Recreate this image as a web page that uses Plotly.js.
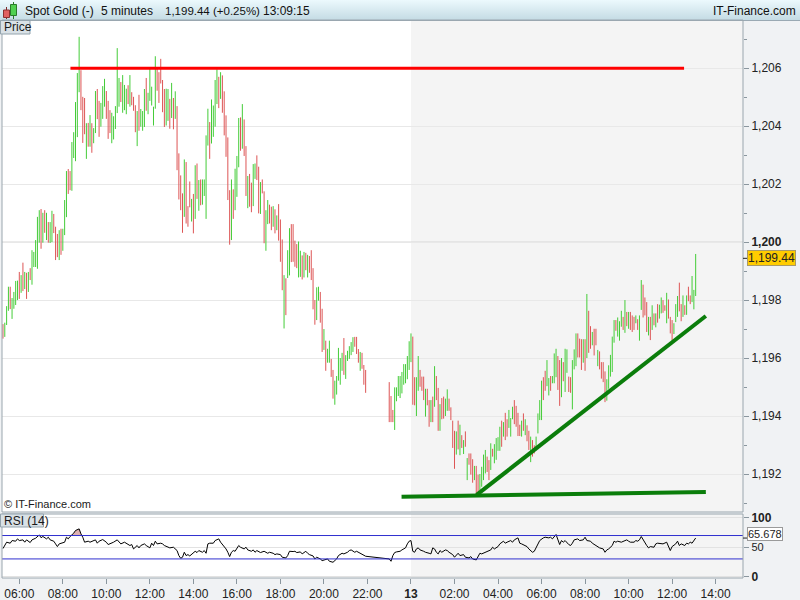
<!DOCTYPE html>
<html><head><meta charset="utf-8">
<script src="https://cdn.plot.ly/plotly-3.0.1.min.js"></script>
<style>html,body{margin:0;padding:0;background:#f0f2f4;overflow:hidden}#chart{width:800px;height:600px}</style>
</head><body><div id="chart"></div>
<script>
// ---------------- DATA ----------------
const sessionStarts = ['2018-09-12 05:15', '2018-09-12 23:00']; // 5-minute bars
const highs1 = [
1197.17,1197.22,1197.79,1198.46,1198.46,1198.07,1198.28,1198.66,1198.67,1198.97,
1198.86,1199.29,1198.97,1198.94,1198.97,1199.10,1199.72,1199.66,1200.07,1200.87,
1201.10,1201.14,1201.01,1201.10,1201.01,1200.69,1200.69,1201.08,1200.97,1200.53,
1200.28,1200.41,1200.46,1200.46,1201.45,1202.45,1202.52,1202.45,1203.45,1203.79,
1204.83,1205.83,1207.08,1205.93,1205.01,1204.97,1204.10,1204.11,1204.38,1204.10,
1203.93,1205.21,1205.28,1204.87,1204.80,1205.38,1205.63,1205.21,1204.87,1204.55,
1204.46,1204.34,1204.69,1206.69,1205.66,1205.52,1205.76,1205.42,1205.29,1205.41,
1205.76,1205.17,1205.01,1204.72,1204.52,1205.08,1204.59,1204.52,1205.28,1205.66,
1205.15,1205.98,1205.36,1204.67,1206.41,1205.98,1205.86,1206.32,1205.59,1205.28,
1205.29,1205.28,1204.94,1205.49,1204.97,1205.20,1204.69,1203.06,1202.30,1201.68,
1202.85,1202.76,1201.24,1202.09,1201.49,1201.66,1202.65,1202.71,1202.14,1202.16,
1202.16,1202.16,1203.68,1204.60,1204.14,1204.92,1204.71,1205.59,1205.96,1205.70,
1205.86,1205.75,1205.20,1204.37,1203.61,1201.79,1202.16,1201.82,1202.53,1202.97,
1204.28,1204.30,1204.76,1204.23,1203.31,1202.28,1202.35,1202.05,1202.69,1202.71,
1202.99,1202.60,1202.07,1202.16,1201.75,1201.10,1201.45,1201.29,1201.22,1201.24,
1201.13,1200.92,1201.31,1200.78,1200.09,1198.86,1198.75,1199.72,1200.48,1200.62,
1200.62,1200.05,1199.93,1200.02,1199.70,1199.54,1199.66,1199.63,1199.56,1199.52,
1199.72,1199.10,1198.00,1198.44,1198.46,1198.28,1197.70,1197.00,1196.60,1196.32,
1196.60,1195.97,1195.59,1195.22,1195.38,1196.35,1196.00,1196.18,1196.69,1196.10,
1196.25,1196.41,1196.55,1196.72,1196.73,1196.73,1196.31,1196.21,1196.18,1195.76,
1195.59];
const lows1 = [
1196.67,1196.73,1197.14,1197.63,1197.69,1197.35,1197.70,1197.83,1198.00,1198.04,
1198.25,1198.31,1198.38,1198.04,1198.28,1198.69,1198.53,1199.14,1199.14,1199.08,
1199.98,1199.77,1199.98,1200.32,1200.07,1199.98,1199.97,1200.00,1200.31,1199.38,
1199.48,1199.38,1199.56,1199.70,1200.24,1200.86,1201.66,1201.79,1201.77,1202.90,
1202.79,1203.62,1205.17,1204.55,1203.42,1203.72,1202.87,1203.29,1203.29,1203.08,
1203.41,1203.76,1204.24,1203.63,1203.98,1204.25,1204.67,1204.25,1203.56,1203.76,
1203.41,1203.54,1203.90,1204.45,1204.67,1204.83,1204.46,1204.55,1204.41,1204.76,
1204.67,1204.72,1204.53,1203.79,1203.31,1203.84,1203.98,1203.84,1203.97,1204.53,
1204.41,1204.87,1204.71,1204.02,1204.60,1205.22,1204.80,1205.47,1204.48,1203.97,
1204.02,1204.18,1203.91,1204.28,1203.89,1204.25,1202.48,1201.47,1201.10,1200.32,
1200.87,1200.64,1200.53,1201.20,1200.71,1200.30,1200.80,1201.49,1201.08,1201.27,
1201.29,1201.59,1200.80,1203.33,1202.87,1203.40,1203.63,1203.98,1204.76,1204.62,
1204.94,1204.46,1203.68,1202.94,1201.45,1199.91,1200.07,1200.80,1201.10,1201.56,
1202.58,1203.15,1203.22,1202.97,1201.59,1201.17,1201.22,1201.03,1201.24,1202.18,
1202.14,1200.99,1200.97,1201.68,1199.96,1199.70,1200.62,1200.64,1200.41,1200.53,
1200.30,1200.41,1200.05,1199.32,1198.34,1197.02,1197.48,1198.76,1198.85,1199.31,
1199.32,1199.15,1199.10,1198.78,1198.80,1198.71,1198.78,1199.03,1198.78,1198.94,
1198.69,1197.68,1197.15,1197.31,1197.98,1197.22,1196.21,1196.28,1195.56,1195.84,
1195.84,1195.35,1194.60,1194.39,1194.74,1195.22,1195.08,1195.56,1195.42,1195.28,
1195.90,1195.97,1196.10,1196.21,1196.39,1196.14,1195.84,1195.56,1195.63,1195.08,
1194.80];
// u = up bar (green), d = down bar (red)
const dirs1 = 'duuuduuuud' + 'udududuuuu' + 'udududuudd' + 'duduuudduu' + 'uuudddudud' +
  'uudduuuddd' + 'uuuuuduuud' + 'uddduduuud' + 'uuuuuddddd' + 'uudududddd' +
  'udddududud' + 'uuuuduuuud' + 'uddddduduu' + 'ududdudduu' + 'ddudduuddu' +
  'duddduduud' + 'ddduududud' + 'ddduuddudu' + 'udduuuuudu' + 'uuuudddudd' + 'd';

const highs2 = [
1195.17,1194.69,1194.21,1194.99,1194.99,1195.38,1195.38,1195.52,1195.79,1195.79,
1196.07,1196.58,1196.85,1196.74,1195.34,1195.34,1196.07,1195.59,1195.36,1195.36,
1194.94,1194.94,1194.55,1194.55,1194.67,1195.72,1195.38,1194.97,1194.41,1194.62,
1194.67,1194.60,1194.92,1194.60,1194.30,1193.84,1193.49,1193.47,1193.84,1193.70,
1193.34,1193.17,1193.47,1192.55,1192.71,1192.71,1192.51,1192.28,1192.28,1191.98,
1192.00,1192.25,1192.67,1192.83,1192.60,1192.48,1193.06,1192.87,1193.03,1193.24,
1193.27,1193.63,1193.84,1193.79,1194.11,1193.89,1194.21,1193.93,1194.32,1194.55,
1194.35,1194.11,1193.70,1193.84,1194.09,1193.89,1193.68,1193.49,1193.29,1193.17,
1192.99,1193.29,1194.09,1194.55,1195.22,1195.34,1195.56,1195.93,1195.31,1195.38,
1195.38,1196.16,1196.32,1196.07,1195.93,1196.00,1195.86,1196.32,1196.30,1195.36,
1195.34,1195.93,1196.30,1196.85,1196.85,1196.67,1196.65,1196.65,1196.65,1198.21,
1197.63,1197.10,1196.90,1197.01,1197.01,1196.28,1196.23,1195.86,1195.86,1195.54,
1195.27,1195.75,1196.11,1196.74,1197.31,1197.31,1197.40,1197.27,1197.63,1197.42,
1198.00,1197.59,1197.59,1197.59,1197.47,1197.42,1197.47,1197.34,1197.47,1198.69,
1198.53,1198.09,1197.93,1197.42,1197.42,1197.82,1197.54,1197.54,1197.86,1197.84,
1198.09,1198.00,1197.82,1198.25,1198.02,1197.42,1197.31,1197.20,1197.86,1198.14,
1198.60,1197.86,1198.16,1197.82,1198.16,1198.46,1198.16,1198.83,1198.35,1199.59];
const lows2 = [
1193.79,1193.79,1193.79,1193.52,1194.51,1194.69,1194.62,1194.78,1195.08,1195.13,
1195.27,1195.59,1195.86,1194.39,1194.37,1194.00,1194.87,1195.01,1194.87,1194.55,
1193.98,1194.37,1193.63,1193.79,1193.79,1194.32,1194.55,1193.49,1193.49,1193.89,
1193.91,1194.00,1194.18,1194.18,1193.86,1192.90,1192.18,1192.67,1192.85,1192.65,
1192.90,1192.69,1192.94,1191.79,1192.32,1191.98,1191.70,1191.79,1191.27,1191.27,
1191.45,1191.56,1191.79,1192.02,1192.07,1191.79,1192.14,1192.60,1192.37,1192.49,
1192.80,1192.80,1192.94,1193.29,1193.17,1193.29,1193.59,1193.29,1193.89,1193.72,
1193.63,1193.31,1193.31,1193.29,1193.49,1193.34,1193.13,1192.83,1192.41,1192.60,
1192.71,1192.87,1193.40,1193.86,1193.86,1194.55,1194.87,1195.03,1194.71,1194.87,
1195.13,1195.13,1195.34,1194.90,1194.35,1194.65,1195.20,1194.83,1195.49,1194.83,
1194.80,1194.23,1195.61,1195.72,1196.02,1196.02,1195.59,1195.84,1195.56,1196.00,
1196.18,1196.32,1196.44,1196.09,1196.44,1195.72,1195.61,1195.29,1195.17,1194.48,
1194.53,1194.94,1195.36,1195.52,1196.53,1196.94,1196.74,1196.60,1197.08,1196.97,
1196.87,1197.10,1197.01,1196.97,1196.90,1196.97,1197.20,1196.97,1196.60,1197.66,
1197.40,1197.47,1196.90,1196.78,1196.62,1196.97,1197.13,1197.06,1197.22,1197.36,
1197.54,1197.56,1197.63,1197.20,1197.36,1196.85,1196.62,1196.83,1197.24,1197.42,
1197.61,1197.27,1197.42,1197.49,1197.49,1197.96,1197.86,1197.93,1197.68,1198.14];
const dirs2 = 'ddduuuuuuu' + 'uuudduuddd' + 'uddududdud' + 'duuddddudu' + 'dududddudd' +
  'uuuudduduu' + 'uududduuud' + 'dddududdud' + 'duuuudduud' + 'uuudduduud' +
  'duuudddudu' + 'dduddudddd' + 'uuuuuduuud' + 'ududdduduu' + 'dddudududu' +
  'udduddduuu' + 'ddududduuu';

// RSI (14) line ("DD HH:MM" in Sept 2018)
const rsiTimes = [
'12 05:15','12 05:25','12 05:35','12 05:40','12 05:50','12 05:55','12 06:00','12 06:10','12 06:15','12 06:20',
'12 06:30','12 06:35','12 06:45','12 06:50','12 06:55','12 07:00','12 07:05','12 07:15','12 07:20','12 07:25',
'12 07:35','12 07:40','12 07:45','12 07:50','12 08:00','12 08:05','12 08:10','12 08:15','12 08:20','12 08:30',
'12 08:35','12 08:45','12 08:50','12 08:55','12 09:00','12 09:10','12 09:15','12 09:20','12 09:30','12 09:35',
'12 09:40','12 09:50','12 10:00','12 10:05','12 10:10','12 10:20','12 10:30','12 10:35','12 10:40','12 10:50',
'12 10:55','12 11:05','12 11:10','12 11:15','12 11:25','12 11:30','12 11:35','12 11:45','12 11:50','12 12:00',
'12 12:05','12 12:10','12 12:15','12 12:20','12 12:30','12 12:35','12 12:40','12 12:50','12 12:55','12 13:05',
'12 13:10','12 13:15','12 13:20','12 13:25','12 13:30','12 13:35','12 13:40','12 13:45','12 13:50','12 14:00',
'12 14:05','12 14:10','12 14:15','12 14:25','12 14:30','12 14:35','12 14:40','12 14:45','12 14:55','12 15:00',
'12 15:10','12 15:15','12 15:25','12 15:30','12 15:35','12 15:40','12 15:45','12 15:50','12 15:55','12 16:05',
'12 16:10','12 16:20','12 16:25','12 16:30','12 16:40','12 16:45','12 16:50','12 16:55','12 17:05','12 17:10',
'12 17:15','12 17:25','12 17:30','12 17:40','12 17:45','12 17:50','12 18:00','12 18:05','12 18:15','12 18:20',
'12 18:25','12 18:35','12 18:40','12 18:45','12 18:55','12 19:00','12 19:10','12 19:15','12 19:20','12 19:30',
'12 19:35','12 19:40','12 19:50','12 19:55','12 20:05','12 20:10','12 20:15','12 20:25','12 20:35','12 20:40',
'12 20:50','12 20:55','12 21:05','12 21:10','12 21:15','12 21:25','12 21:30','12 21:40','12 21:45','12 21:50',
'12 21:55',
'12 23:00','12 23:05','12 23:10','12 23:15','12 23:20','12 23:30','12 23:35','12 23:45','12 23:50','12 23:55',
'13 00:00','13 00:05','13 00:10','13 00:15','13 00:20','13 00:25','13 00:35','13 00:40','13 00:50','13 00:55',
'13 01:00','13 01:05','13 01:10','13 01:15','13 01:20','13 01:25','13 01:35','13 01:40','13 01:45','13 01:55',
'13 02:00','13 02:05','13 02:10','13 02:15','13 02:25','13 02:30','13 02:40','13 02:45','13 02:50','13 03:00',
'13 03:05','13 03:10','13 03:15','13 03:25','13 03:30','13 03:40','13 03:45','13 03:50','13 04:00','13 04:05',
'13 04:15','13 04:20','13 04:25','13 04:35','13 04:40','13 04:45','13 04:55','13 05:00','13 05:05','13 05:10',
'13 05:20','13 05:25','13 05:35','13 05:40','13 05:45','13 05:50','13 05:55','13 06:05','13 06:10','13 06:20',
'13 06:25','13 06:30','13 06:35','13 06:40','13 06:50','13 06:55','13 07:00','13 07:05','13 07:15','13 07:20',
'13 07:25','13 07:30','13 07:40','13 07:45','13 07:55','13 08:00','13 08:05','13 08:15','13 08:20','13 08:25',
'13 08:35','13 08:40','13 08:50','13 08:55','13 09:00','13 09:05','13 09:15','13 09:20','13 09:25','13 09:30',
'13 09:40','13 09:45','13 09:55','13 10:00','13 10:05','13 10:15','13 10:20','13 10:25','13 10:30','13 10:35',
'13 10:40','13 10:50','13 10:55','13 11:00','13 11:10','13 11:15','13 11:20','13 11:30','13 11:35','13 11:45',
'13 11:50','13 11:55','13 12:00','13 12:10','13 12:15','13 12:20','13 12:25','13 12:35','13 12:40','13 12:45',
'13 12:50','13 12:55','13 13:05'];
const rsiValues = [
47.7,58.6,56.9,61.4,60.3,64.3,61.4,62.6,58.6,62.6,
58.0,62.6,65.4,68.5,71.0,66.3,68.4,64.3,67.1,62.6,
60.3,55.7,51.1,55.7,56.9,58.6,67.1,64.3,68.3,74.0,
78.6,81.4,72.9,67.1,58.6,60.3,58.6,60.3,62.6,56.9,
60.3,63.1,58.6,54.6,55.7,58.6,62.6,58.6,55.7,58.6,
56.9,52.9,54.6,47.1,52.9,48.9,52.9,55.7,52.9,48.9,
56.9,52.9,60.3,55.7,56.9,55.7,52.9,50.0,48.9,50.0,
47.1,44.3,35.7,31.1,32.9,41.4,35.7,37.4,35.1,39.7,
43.1,40.9,44.3,41.4,44.3,39.7,55.7,56.9,56.9,61.4,
64.3,58.6,51.1,47.1,41.4,34.0,41.4,44.3,43.1,52.9,
50.0,47.1,50.0,45.4,43.1,45.4,41.4,44.3,40.9,41.4,
43.1,39.7,41.4,39.7,37.4,38.6,37.4,32.9,31.7,35.7,
43.1,42.6,43.1,40.9,42.0,38.6,43.1,39.7,37.4,35.1,
30.0,32.9,30.0,27.1,28.3,30.0,26.0,24.3,30.0,35.7,
39.7,38.6,41.4,44.3,45.4,41.4,43.1,39.7,37.4,35.7,
34.6,
30.0,26.0,35.7,40.9,42.0,43.1,45.4,48.9,55.7,60.3,
61.4,43.1,41.4,47.1,48.9,45.4,43.1,41.4,39.7,38.6,
48.9,47.1,41.4,38.6,44.3,41.4,45.4,44.3,41.4,37.4,
32.9,35.7,39.7,35.7,37.4,32.9,31.7,34.0,30.0,28.3,
32.9,39.7,38.6,41.4,41.4,45.4,50.0,47.1,51.1,55.7,
60.3,56.9,58.6,61.4,58.6,62.6,66.0,56.9,55.7,54.6,
51.1,47.1,41.4,43.1,48.9,55.7,61.4,66.0,67.1,66.0,
67.1,64.3,68.3,71.7,54.6,61.4,58.6,61.4,54.6,52.9,
56.9,62.6,64.3,61.4,62.6,67.1,61.4,60.3,56.9,54.6,
51.1,48.9,47.1,41.4,45.4,47.1,52.9,60.3,58.6,60.3,
58.6,60.3,62.6,60.3,58.6,58.6,61.4,60.3,62.6,68.3,
62.6,52.9,48.9,51.1,50.0,55.7,56.9,56.9,55.7,58.6,
50.0,44.3,51.1,55.7,60.3,52.9,55.7,52.9,56.9,55.7,
58.6,56.9,65.678];
// part of the RSI line above the 70 level (shaded)
const overboughtTimes = ['12 08:23','12 08:30','12 08:35','12 08:45','12 08:50','12 08:52'];
const overboughtValues = [70, 74.0, 78.6, 81.4, 72.9, 70];
const rsiLevels = [30, 70];

// hand-drawn lines on the chart: [time, price]
const resistanceLine = [['12 08:21', 1206.0], ['13 12:33', 1206.0]];
const supportLine = [['12 23:34', 1191.22], ['13 13:33', 1191.38]];
const trendLine = [['13 03:01', 1191.28], ['13 13:33', 1197.45]];

const lastPrice = 1199.44, lastPriceText = '1,199.44';
const lastRsi = 65.678, lastRsiText = '65.678';
const headerTexts = ['Spot Gold (-)', '5 minutes', '1,199.44 (+0.25%)', '13:09:15'];
const priceTicks = [1192, 1194, 1196, 1198, 1200, 1202, 1204, 1206];
const priceTickText = ['1,192', '1,194', '1,196', '1,198', '<b>1,200</b>', '1,202', '1,204', '1,206'];
const priceMinorTicks = [1191, 1193, 1195, 1197, 1199, 1201, 1203, 1205, 1207];
const rsiTicks = [0, 50, 100];
const rsiTickText = ['<b>0</b>', '<span style="font-size:11px">50</span>', '<b>100</b>'];
const timeTicks = ['12 06:00','12 08:00','12 10:00','12 12:00','12 14:00','12 16:00','12 18:00','12 20:00','12 22:00',
  '13 00:00','13 02:00','13 04:00','13 06:00','13 08:00','13 10:00','13 12:00','13 14:00'];
const timeTickText = ['06:00','08:00','10:00','12:00','14:00','16:00','18:00','20:00','22:00',
  '<b>13</b>','02:00','04:00','06:00','08:00','10:00','12:00','14:00'];

// ---------------- BUILD ----------------
const d = s => '2018-09-' + s;
function sessionTimes(start, n) {
  const t0 = Date.parse(start.replace(' ', 'T') + ':00Z');
  return Array.from({length: n}, (_, k) => new Date(t0 + k * 300000).toISOString().slice(0, 16).replace('T', ' '));
}
const times = sessionTimes(sessionStarts[0], highs1.length).concat(sessionTimes(sessionStarts[1], highs2.length));
const highs = highs1.concat(highs2), lows = lows1.concat(lows2), dirs = dirs1 + dirs2;
const opens = highs.map((h, k) => dirs[k] === 'u' ? lows[k] : h);
const closes = highs.map((h, k) => dirs[k] === 'u' ? h : lows[k]);

const FONT = 'Liberation Sans, Arial, Helvetica, sans-serif';
const GREEN = '#44cc38', RED = '#dd5555';
const PL = 2, PR = 743, PT = 20, PB = 578;
const px = x => (x - PL) / (PR - PL);
const py = y => (PB - y) / (PB - PT);

const traces = [
  {type: 'ohlc', x: times, open: opens, high: highs, low: lows, close: closes,
   xaxis: 'x', yaxis: 'y', tickwidth: 0, line: {width: 1},
   increasing: {line: {color: GREEN, width: 1}}, decreasing: {line: {color: RED, width: 1}},
   hoverinfo: 'skip', showlegend: false},
  {type: 'scatter', mode: 'lines', x: resistanceLine.map(p => d(p[0])), y: resistanceLine.map(p => p[1]),
   line: {color: '#ff0000', width: 3}, xaxis: 'x', yaxis: 'y', hoverinfo: 'skip'},
  {type: 'scatter', mode: 'lines', x: supportLine.map(p => d(p[0])), y: supportLine.map(p => p[1]),
   line: {color: '#0b7d0b', width: 4}, xaxis: 'x', yaxis: 'y', hoverinfo: 'skip'},
  {type: 'scatter', mode: 'lines', x: trendLine.map(p => d(p[0])), y: trendLine.map(p => p[1]),
   line: {color: '#0b7d0b', width: 4}, xaxis: 'x', yaxis: 'y', hoverinfo: 'skip'},
  {type: 'scatter', mode: 'lines', x: [d(overboughtTimes[0]), d(overboughtTimes[overboughtTimes.length - 1])],
   y: [rsiLevels[1], rsiLevels[1]], line: {width: 0, color: 'rgba(0,0,0,0)'}, xaxis: 'x', yaxis: 'y2', hoverinfo: 'skip'},
  {type: 'scatter', mode: 'lines', x: overboughtTimes.map(d), y: overboughtValues, fill: 'tonexty',
   fillcolor: 'rgba(205,135,135,0.65)', line: {width: 0, color: 'rgba(0,0,0,0)'}, xaxis: 'x', yaxis: 'y2', hoverinfo: 'skip'},
  {type: 'scatter', mode: 'lines', x: rsiTimes.map(d), y: rsiValues, line: {color: '#000', width: 1},
   xaxis: 'x', yaxis: 'y2', hoverinfo: 'skip'}
];

const shapes = [
  // header bar
  {type: 'rect', xref: 'paper', yref: 'paper', x0: px(0), x1: px(800), y0: py(20), y1: py(0),
   fillcolor: '#d6ebf2', line: {width: 0}, layer: 'below'},
  {type: 'line', xref: 'paper', yref: 'paper', x0: px(0), x1: px(800), y0: py(20.5), y1: py(20.5),
   line: {color: '#9aa9b3', width: 1}, layer: 'above'},
  // current-day shading
  {type: 'rect', xref: 'x', yref: 'y domain', x0: '2018-09-13 00:00', x1: '2018-09-13 15:16', y0: 0, y1: 1,
   fillcolor: '#f4f4f4', line: {width: 0}, layer: 'below'},
  {type: 'rect', xref: 'x', yref: 'y2 domain', x0: '2018-09-13 00:00', x1: '2018-09-13 15:16', y0: 0, y1: 1,
   fillcolor: '#f4f4f4', line: {width: 0}, layer: 'below'},
  // 1,200 line slightly darker
  {type: 'line', xref: 'paper', yref: 'y', x0: 0, x1: 1, y0: 1200, y1: 1200,
   line: {color: '#cfcfcf', width: 1}, layer: 'below'},
  // RSI 30 / 70 levels
  ...rsiLevels.map(v => ({type: 'line', xref: 'paper', yref: 'y2', x0: 0, x1: 1, y0: v, y1: v,
   line: {color: '#2f2fcf', width: 1}, layer: 'above'})),
  // panel borders
  {type: 'rect', xref: 'paper', yref: 'y domain', x0: 0, x1: 1, y0: 0, y1: 1, line: {color: '#9aa6ae', width: 1}},
  {type: 'rect', xref: 'paper', yref: 'y2 domain', x0: 0, x1: 1, y0: 0, y1: 1, line: {color: '#9aa6ae', width: 1}},
  // last value ticks
  {type: 'line', xref: 'paper', yref: 'y', x0: 1, x1: px(747), y0: lastPrice, y1: lastPrice, line: {color: '#222', width: 1}},
  {type: 'line', xref: 'paper', yref: 'y2', x0: 1, x1: px(747), y0: lastRsi, y1: lastRsi, line: {color: '#222', width: 1}},
  // "Price" and "RSI (14)" tabs
  {type: 'rect', xref: 'paper', yref: 'paper', x0: px(0.5), x1: px(30), y0: py(34), y1: py(20.5),
   fillcolor: '#d9e1e6', line: {color: '#93a3ad', width: 1}, layer: 'above'},
  {type: 'rect', xref: 'paper', yref: 'paper', x0: px(0.5), x1: px(43.5), y0: py(527), y1: py(514),
   fillcolor: '#d9e1e6', line: {color: '#93a3ad', width: 1}, layer: 'above'},
  // header icon (two small candles)
  {type: 'line', xref: 'paper', yref: 'paper', x0: px(6.5), x1: px(6.5), y0: py(19), y1: py(7),
   line: {color: '#7a2a2a', width: 1}, layer: 'above'},
  {type: 'rect', xref: 'paper', yref: 'paper', x0: px(3.5), x1: px(9.5), y0: py(17.5), y1: py(10),
   fillcolor: '#e06060', line: {color: '#8a3030', width: 1}, layer: 'above'},
  {type: 'line', xref: 'paper', yref: 'paper', x0: px(13.5), x1: px(13.5), y0: py(19), y1: py(2),
   line: {color: '#2a7a2a', width: 1}, layer: 'above'},
  {type: 'rect', xref: 'paper', yref: 'paper', x0: px(10.5), x1: px(16.5), y0: py(15.5), y1: py(4.5),
   fillcolor: '#50d050', line: {color: '#2a7a2a', width: 1}, layer: 'above'}
];

const headerX = [24, 100, 164, 262];
const headerSize = [12, 12, 11.5, 12];
const annotations = headerTexts.map((t, k) => ({xref: 'paper', yref: 'paper', x: px(headerX[k] - 1), y: py(10.5),
  xanchor: 'left', yanchor: 'middle', text: t, showarrow: false, font: {family: FONT, size: headerSize[k], color: '#111'}}));
annotations.push(
  {xref: 'paper', yref: 'paper', x: px(798), y: py(10.5), xanchor: 'right', yanchor: 'middle', text: 'IT-Finance.com',
   showarrow: false, font: {family: FONT, size: 12, color: '#111'}},
  {xref: 'paper', yref: 'paper', x: px(2), y: py(27.5), xanchor: 'left', yanchor: 'middle', text: 'Price',
   showarrow: false, font: {family: FONT, size: 12, color: '#1a1a1a'}},
  {xref: 'paper', yref: 'paper', x: px(2), y: py(520.5), xanchor: 'left', yanchor: 'middle', text: 'RSI (14)',
   showarrow: false, font: {family: FONT, size: 12, color: '#1a1a1a'}},
  {xref: 'paper', yref: 'paper', x: px(2), y: py(504), xanchor: 'left', yanchor: 'middle', text: '© IT-Finance.com',
   showarrow: false, font: {family: FONT, size: 11, color: '#1a1a1a'}},
  {xref: 'paper', yref: 'y', x: px(747), y: lastPrice, xanchor: 'left', yanchor: 'middle', text: lastPriceText,
   showarrow: false, bgcolor: '#ffcc00', bordercolor: '#a89a68', borderwidth: 1, borderpad: 0,
   font: {family: FONT, size: 12, color: '#222'}},
  {xref: 'paper', yref: 'y2', x: px(747), y: lastRsi, yshift: 4, xanchor: 'left', yanchor: 'middle', text: lastRsiText,
   showarrow: false, bgcolor: '#ffffff', bordercolor: '#9a9a9a', borderwidth: 1, borderpad: 0,
   font: {family: FONT, size: 11, color: '#222'}}
);

const svg = "<svg xmlns='http://www.w3.org/2000/svg' width='800' height='20' preserveAspectRatio='none'>" +
  "<defs><linearGradient id='g' x1='0' y1='0' x2='0' y2='1'><stop offset='0' stop-color='#ecf9fd'/>" +
  "<stop offset='1' stop-color='#c4dbe4'/></linearGradient></defs><rect width='800' height='20' fill='url(#g)'/></svg>";

const layout = {
  width: 800, height: 600,
  margin: {l: PL, r: 800 - PR, t: PT, b: 600 - PB, pad: 0},
  paper_bgcolor: '#f0f2f4', plot_bgcolor: '#ffffff',
  showlegend: false,
  font: {family: FONT, size: 12, color: '#222'},
  xaxis: {type: 'date', anchor: 'y2', domain: [0, 1],
    range: ['2018-09-12 05:12:18', '2018-09-13 15:15:30'],
    tickmode: 'array', tickvals: timeTicks.map(d), ticktext: timeTickText,
    ticks: 'outside', ticklen: 5, tickcolor: '#8a969e', tickfont: {family: FONT, size: 12, color: '#222'},
    showgrid: false, zeroline: false, showline: false, rangeslider: {visible: false}, automargin: false, fixedrange: true},
  yaxis: {domain: [py(512), 1], range: [1190.69, 1207.66], side: 'right', anchor: 'x',
    tickmode: 'array', tickvals: priceTicks, ticktext: priceTickText,
    ticks: 'outside', ticklen: 5, tickcolor: '#8a969e', tickfont: {family: FONT, size: 12, color: '#222'},
    minor: {tickmode: 'array', tickvals: priceMinorTicks, ticks: 'outside', ticklen: 3, tickcolor: '#8a969e', showgrid: false},
    showgrid: true, gridcolor: '#e8e8e8', zeroline: false, showline: false, automargin: false, fixedrange: true},
  yaxis2: {domain: [0, py(514)], range: [-2.6, 106.8], side: 'right', anchor: 'x',
    tickmode: 'array', tickvals: rsiTicks, ticktext: rsiTickText,
    ticks: 'outside', ticklen: 5, tickcolor: '#8a969e', tickfont: {family: FONT, size: 12, color: '#222'},
    showgrid: true, gridcolor: '#e2e2e2', zeroline: false, showline: false, automargin: false, fixedrange: true},
  shapes: shapes,
  annotations: annotations,
  images: [{source: 'data:image/svg+xml;charset=utf-8,' + encodeURIComponent(svg), xref: 'paper', yref: 'paper',
    x: px(0), y: py(0), sizex: 800 / (PR - PL), sizey: 20 / (PB - PT), sizing: 'stretch',
    xanchor: 'left', yanchor: 'top', layer: 'above'}]
};

Plotly.newPlot('chart', traces, layout, {staticPlot: true, displayModeBar: false});
</script>
</body></html>
